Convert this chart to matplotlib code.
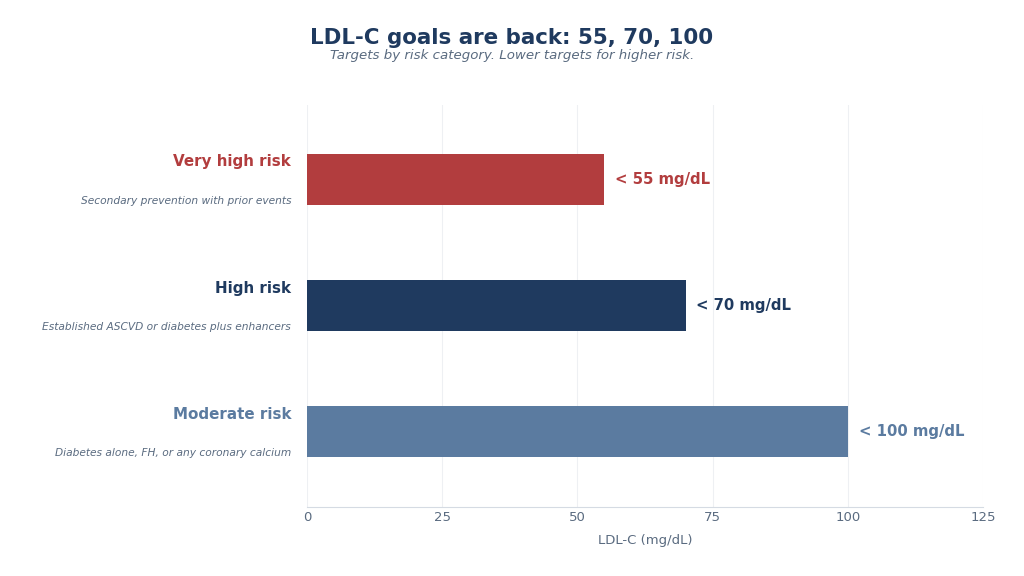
import matplotlib
matplotlib.use("Agg")
import matplotlib.pyplot as plt

categories = ["Very high risk", "High risk", "Moderate risk"]
descriptions = ["Secondary prevention with prior events",
                "Established ASCVD or diabetes plus enhancers",
                "Diabetes alone, FH, or any coronary calcium"]
targets = [55, 70, 100]
value_labels = ["< 55 mg/dL", "< 70 mg/dL", "< 100 mg/dL"]
colors = ["#B23D3E", "#1F3A5F", "#5B7BA0"]
xticks = [0, 25, 50, 75, 100, 125]

fig = plt.figure(figsize=(10.24, 5.76), dpi=100)
ax = fig.add_axes([0.2998, 0.1198, 0.6602, 0.6979])

ypos = [2, 1, 0]
ax.barh(ypos, targets, height=0.41, color=colors, zorder=3)
ax.set_xlim(0, 125)
ax.set_ylim(-0.6, 2.59)
ax.set_xticks(xticks)
ax.set_yticks([])
ax.grid(axis="x", color="#eef0f3", linewidth=0.8, zorder=0)
for s in ["top", "right", "left"]:
    ax.spines[s].set_visible(False)
ax.spines["bottom"].set_color("#d5dbe3")
ax.tick_params(axis="x", length=0, labelsize=9.5, labelcolor="#5a6b80", pad=3)
ax.set_xlabel("LDL-C (mg/dL)", fontsize=9.5, color="#5a6b80", labelpad=7)

for y, t, lab, c, cat, d in zip(ypos, targets, value_labels, colors, categories, descriptions):
    ax.text(t + 2, y, lab, va="center", ha="left", fontsize=10.7,
            fontweight="bold", color=c)
    ax.annotate(cat, xy=(0, y), xycoords=("axes fraction", "data"),
                xytext=(-11.5, 12.5), textcoords="offset points",
                ha="right", va="center", fontsize=10.9, fontweight="bold", color=c)
    ax.annotate(d, xy=(0, y), xycoords=("axes fraction", "data"),
                xytext=(-11.5, -15.5), textcoords="offset points",
                ha="right", va="center", fontsize=7.7, style="italic", color="#5a6b80")

fig.text(0.5, 1 - 38 / 576, "LDL-C goals are back: 55, 70, 100", ha="center", va="center",
         fontsize=15.4, fontweight="bold", color="#1F3A5F")
fig.text(0.5, 1 - 56 / 576, "Targets by risk category. Lower targets for higher risk.",
         ha="center", va="center", fontsize=9.6, style="italic", color="#5a6b80")

fig.savefig("out.png", dpi=100)
